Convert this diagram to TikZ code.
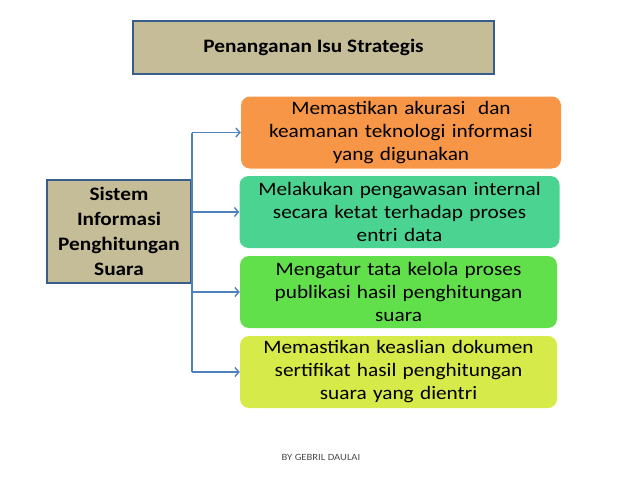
\documentclass[tikz,border=0pt]{standalone}
\usepackage{fontspec}
\setmainfont{Carlito}[FakeStretch=1.12]
\usetikzlibrary{arrows.meta}
\definecolor{tanfill}{HTML}{C4BD97}
\definecolor{tanline}{HTML}{385D8A}
\definecolor{arrowblue}{HTML}{4F81BD}
\definecolor{boxorange}{HTML}{F79646}
\definecolor{boxteal}{HTML}{4BD491}
\definecolor{boxgreen}{HTML}{62E04B}
\definecolor{boxlime}{HTML}{D6EA4A}
\tikzset{
  tanbox/.style={draw=tanline, line width=1.2pt, fill=tanfill, inner sep=0pt,
    font=\fontsize{19}{25}\selectfont\bfseries, align=center},
  item/.style={rounded corners=9pt, inner sep=0pt, minimum width=320pt,
    minimum height=72pt, text width=316pt, align=center,
    font=\fontsize{19}{23}\selectfont},
  link/.style={draw=arrowblue, line width=1.4pt, -{Straight Barb[length=4pt,width=9pt]}}
}
\begin{document}
\begin{tikzpicture}[x=1pt, y=-1pt]
      \useasboundingbox (0, 0) rectangle (638, 479);

      \node [tanbox, minimum width=361pt, minimum height=53pt] (title) at (313.5, 47.5)
        {Penanganan Isu Strategis};
      \node [tanbox, minimum width=144pt, minimum height=103pt] (sis) at (119, 231.5)
        {Sistem\\Informasi\\Penghitungan\\Suara};

      \node [item, fill=boxorange] (akurasi) at (401, 132.5)
        {Memastikan akurasi\ \ dan\\keamanan teknologi informasi\\yang digunakan};
      \node [item, fill=boxteal] (awas) at (399.5, 212)
        {Melakukan pengawasan internal\\secara ketat terhadap proses\\entri data};
      \node [item, fill=boxgreen, minimum width=317pt] (kelola) at (398.5, 292)
        {Mengatur tata kelola proses\\publikasi hasil penghitungan\\suara};
      \node [item, fill=boxlime, minimum width=317pt] (asli) at (398.5, 372)
        {Memastikan keaslian dokumen\\sertifikat hasil penghitungan\\suara yang dientri};

      \coordinate (bus) at (192, 0);
      \draw [draw=arrowblue, line width=1.4pt] (bus |- akurasi) -- (bus |- asli);
      \draw [link] (bus |- akurasi) -- (akurasi.west);
      \draw [link] (bus |- awas) -- (awas.west);
      \draw [link] (bus |- kelola) -- (kelola.west);
      \draw [link] (bus |- asli) -- (asli.west);

      \node [text=black!70, font=\fontsize{9.5}{11}\selectfont] (credit) at (321, 457) {BY GEBRIL DAULAI};
    \end{tikzpicture}
\end{document}
